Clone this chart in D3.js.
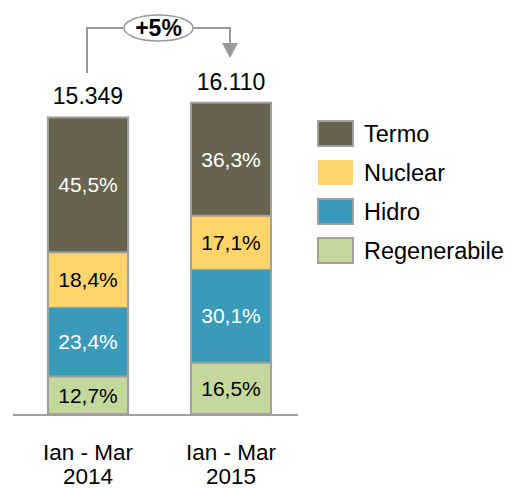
<!DOCTYPE html>
<html>
  <head>
    <meta charset="utf-8" />
    <script src="https://d3js.org/d3.v7.min.js"></script>
    <style>
      body { margin: 0; background: #fff; }
      text { font-family: "Liberation Sans", Arial, sans-serif; }
    </style>
  </head>
  <body>
    <svg id="chart"></svg>
    <script>
      // data
      var periods = ["Ian - Mar 2014", "Ian - Mar 2015"];
      var totals = [15349, 16110];
      var totalLabels = ["15.349", "16.110"];
      var sources = ["Regenerabile", "Hidro", "Nuclear", "Termo"];
      var shares = {
        Regenerabile: [12.7, 16.5],
        Hidro: [23.4, 30.1],
        Nuclear: [18.4, 17.1],
        Termo: [45.5, 36.3]
      };
      var growthLabel = "+5%";

      var colors = { Termo: "#67634f", Nuclear: "#ffd56b", Hidro: "#3a9ab9", Regenerabile: "#c4d89c" };
      var textColors = { Termo: "#fff", Nuclear: "#000", Hidro: "#fff", Regenerabile: "#000" };
      var legendOrder = ["Termo", "Nuclear", "Hidro", "Regenerabile"];

      var width = 513, height = 489;
      var svg = d3.select("#chart").attr("width", width).attr("height", height);

      var x = d3.scaleBand().domain(periods).range([17, 302]).paddingInner(0.44).paddingOuter(0.2165);
      var y = d3.scaleLinear().domain([0, 16110]).range([414, 102.7]);

      // build stacked rows (absolute values)
      var rows = periods.map(function (p, i) {
        var r = { period: p };
        sources.forEach(function (s) { r[s] = totals[i] * shares[s][i] / 100; });
        return r;
      });
      var stack = d3.stack().keys(sources)(rows);

      var g = svg.append("g");
      stack.forEach(function (layer) {
        var key = layer.key;
        layer.forEach(function (d, i) {
          var bx = x(periods[i]), bw = x.bandwidth();
          g.append("rect")
            .attr("x", bx)
            .attr("y", y(d[1]))
            .attr("width", bw)
            .attr("height", y(d[0]) - y(d[1]))
            .attr("fill", colors[key])
            .attr("stroke", key === "Nuclear" ? "none" : "#a0a0a0")
            .attr("stroke-width", 2);
        });
      });

      // nuclear sides get bar outline
      periods.forEach(function (p, i) {
        var bx = x(p), bw = x.bandwidth();
        var s = stack[2][i];
        [bx, bx + bw].forEach(function (xx) {
          g.append("line")
            .attr("x1", xx).attr("x2", xx)
            .attr("y1", y(s[0])).attr("y2", y(s[1]))
            .attr("stroke", "#a0a0a0").attr("stroke-width", 2);
        });
      });

      // segment labels
      stack.forEach(function (layer) {
        var key = layer.key;
        layer.forEach(function (d, i) {
          g.append("text")
            .attr("x", x(periods[i]) + x.bandwidth() / 2)
            .attr("y", (y(d[0]) + y(d[1])) / 2)
            .attr("dy", "0.36em")
            .attr("text-anchor", "middle")
            .attr("font-size", 21)
            .attr("fill", textColors[key])
            .text(d3.format(".1f")(shares[key][i]).replace(".", ",") + "%");
        });
      });

      // baseline
      svg.append("line")
        .attr("x1", 13).attr("x2", 298)
        .attr("y1", y(0) + 1).attr("y2", y(0) + 1)
        .attr("stroke", "#a0a0a0").attr("stroke-width", 2);

      // totals
      svg.selectAll(".total")
        .data(periods)
        .join("text")
        .attr("class", "total")
        .attr("x", function (d) { return x(d) + x.bandwidth() / 2; })
        .attr("y", function (d, i) { return y(totals[i]) - 13; })
        .attr("text-anchor", "middle")
        .attr("font-size", 23)
        .text(function (d, i) { return totalLabels[i]; });

      // category labels
      periods.forEach(function (p) {
        var parts = p.split(" 20");
        var cx = x(p) + x.bandwidth() / 2;
        var t = svg.append("text")
          .attr("text-anchor", "middle")
          .attr("font-size", 22.5)
          .attr("x", cx);
        t.append("tspan").attr("x", cx).attr("y", 460).text(parts[0]);
        t.append("tspan").attr("x", cx).attr("y", 484).text("20" + parts[1]);
      });

      // growth bracket
      var x1 = x(periods[0]) + x.bandwidth() / 2 - 1;
      var x2 = x(periods[1]) + x.bandwidth() / 2 - 1;
      var by = 28;
      svg.append("path")
        .attr("d", "M" + x1 + "," + 73 + "V" + by + "H" + x2 + "V" + 46)
        .attr("fill", "none")
        .attr("stroke", "#999")
        .attr("stroke-width", 2);
      svg.append("path")
        .attr("d", "M" + (x2 - 8) + ",43L" + (x2 + 8) + ",43L" + x2 + ",58Z")
        .attr("fill", "#999");
      var cx = (x1 + x2) / 2;
      svg.append("ellipse")
        .attr("cx", cx).attr("cy", by)
        .attr("rx", 34.5).attr("ry", 13)
        .attr("fill", "#fff")
        .attr("stroke", "#999")
        .attr("stroke-width", 1.5);
      svg.append("text")
        .attr("x", cx).attr("y", 35.5)
        .attr("text-anchor", "middle")
        .attr("font-size", 23)
        .attr("font-weight", "bold")
        .text(growthLabel);

      // legend
      var legend = svg.append("g").attr("transform", "translate(318,121)");
      legendOrder.forEach(function (s, i) {
        var row = legend.append("g").attr("transform", "translate(0," + i * 39 + ")");
        row.append("rect")
          .attr("width", 35).attr("height", 25)
          .attr("fill", colors[s])
          .attr("stroke", s === "Nuclear" ? "none" : "#a0a0a0")
          .attr("stroke-width", 2);
        row.append("text")
          .attr("x", 46).attr("y", 12.5)
          .attr("dy", "0.36em")
          .attr("font-size", 23.5)
          .text(s);
      });
    </script>
  </body>
</html>
